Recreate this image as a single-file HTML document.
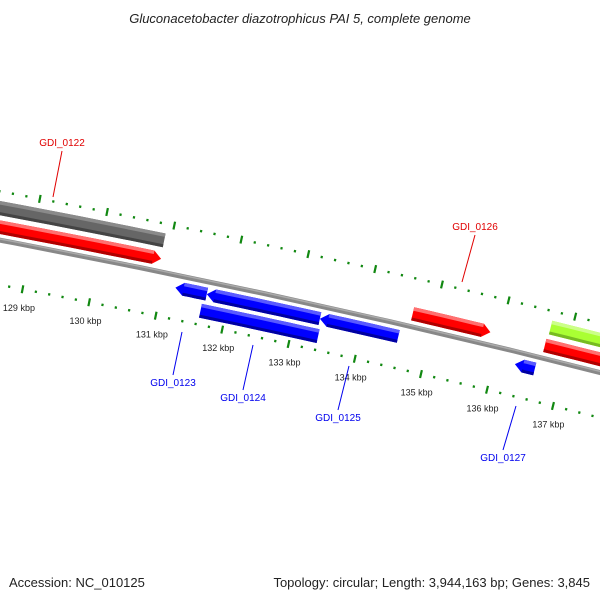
<!DOCTYPE html>
<html><head><meta charset="utf-8"><style>
html,body{margin:0;padding:0;background:#fff;}
svg{display:block;font-family:"Liberation Sans",sans-serif;}
</style></head><body>
<svg id="map" width="600" height="600" viewBox="0 0 600 600">
<rect width="600" height="600" fill="#fff"/>
<text x="300" y="23" text-anchor="middle" font-size="13" font-style="italic" fill="#222">Gluconacetobacter diazotrophicus PAI 5, complete genome</text>
<g id="ticks"></g>
<g id="backbone"></g>
<g id="genes"></g>
<g id="labels"></g>
<text x="9" y="587" font-size="13" fill="#222">Accession: NC_010125</text>
<text x="590" y="587" font-size="13" fill="#222" text-anchor="end">Topology: circular; Length: 3,944,163 bp; Genes: 3,845</text>
</svg>
<script>
// data
const kbpLabels = [129,130,131,132,133,134,135,136,137];
const geneStart = [127.5, 127.5, 131.20, 131.67, 131.63, 133.37, 134.68, 136.31, 136.69, 136.67];
const geneEnd   = [130.90, 130.91, 131.67, 133.37, 133.40, 134.55, 135.85, 136.61, 138.8, 138.8];
const geneStrand= [0, 1, -1, -1, 0, -1, 1, -1, 0, 1];
const geneLane  = [2, 1, -1, -1, -2, -1, 1, -1, 2, 1];
const geneKind  = ['grey','red','blue','blue','blue','blue','red','blue','green','red'];
const geneNames = ['GDI_0122','GDI_0123','GDI_0124','GDI_0125','GDI_0126','GDI_0127'];
const labelGene = [1, 2, 4, 5, 6, 7];

const NS='http://www.w3.org/2000/svg';
const R=10000, PX=68.2, K0=133, P0=[298,301];
const a0=Math.atan2(-0.977,0.215);
const C=[P0[0]-R*Math.cos(a0), P0[1]-R*Math.sin(a0)];
function pt(k,h){const a=a0+PX*(k-K0)/R, r=R+h;return [C[0]+r*Math.cos(a), C[1]+r*Math.sin(a)];}
function mk(tag,attrs,parent){const e=document.createElementNS(NS,tag);for(const k in attrs)e.setAttribute(k,attrs[k]);parent.appendChild(e);return e;}
function edge(k1,k2,h){const o=[];for(let i=0;i<=8;i++){o.push(pt(k1+(k2-k1)*i/8,h));}return o;}
function poly(arr){return arr.map(p=>p[0].toFixed(1)+','+p[1].toFixed(1)).join(' ');}

// ticks
const tg=document.getElementById('ticks');
const rows=[48,-44];
for(const hr of rows){
  for(let i=0;i<=65;i++){
    const k=126.2+i*0.2;const major=Math.abs(k-Math.round(k))<0.01;
    const half=major?4:1.2;
    const p1=pt(k,hr-half),p2=pt(k,hr+half);
    const l=mk('line',{x1:p1[0],y1:p1[1],x2:p2[0],y2:p2[1],stroke:'#118811','stroke-width':2.2},tg);
    
    
  }
}
kbpLabels.forEach(k=>{
  const p=pt(k,-63);
  const t=mk('text',{x:p[0],y:p[1]+3,'font-size':9,'text-anchor':'middle',fill:'#222'},tg);
  t.textContent=k+' kbp';
  
  
});

// backbone
const bg=document.getElementById('backbone');
const bb=mk('polyline',{points:poly(edge(125,140,0)),fill:'none',stroke:'#888','stroke-width':5},bg);


const bb2=mk('polyline',{points:poly(edge(125,140,1.2)),fill:'none',stroke:'#aaa','stroke-width':1.5},bg);



// genes
const colors={red:['#ff0000','#ff7070','#b00000'],blue:['#0000ff','#5a5aff','#0000a0'],grey:['#666666','#8a8a8a','#444444'],green:['#aaff33','#ccff88','#77bb22']};
const laneH={1:[6,19.5],2:[24.5,38.5],'-1':[-19,-6],'-2':[-37,-23]};
const gg=document.getElementById('genes');
for(let i=0;i<geneStart.length;i++){
  const k1=geneStart[i],k2=geneEnd[i],s=geneStrand[i];
  const [hl,hh]=laneH[geneLane[i]];const hm=(hl+hh)/2;const col=colors[geneKind[i]];
  const tip=0.12;
  let b1=k1,b2=k2;if(s===1)b2=k2-tip;if(s===-1)b1=k1+tip;
  let pts=edge(b1,b2,hh);
  if(s===1)pts.push(pt(k2,hm));
  pts=pts.concat(edge(b1,b2,hl).reverse());
  if(s===-1)pts.push(pt(k1,hm));
  const g=mk('g',{},gg);
  
  
  mk('polygon',{points:poly(pts),fill:col[0]},g);
  mk('polygon',{points:poly(edge(b1,b2,hh).concat(edge(b1,b2,hh-3.5).reverse())),fill:col[1]},g);
  mk('polygon',{points:poly(edge(b1,b2,hl+3).concat(edge(b1,b2,hl).reverse())),fill:col[2]},g);
}

// labels
const lg=document.getElementById('labels');
const labelPos=[[62,146,53,197,'#e00000'],[173,386,182,332,'#0000ee'],[243,401,253,345,'#0000ee'],[338,421,349,366,'#0000ee'],[475,230,462,282,'#e00000'],[503,461,516,406,'#0000ee']];
labelPos.forEach((L,j)=>{
  const up=L[1]<L[3];
  const ln=mk('line',{x1:L[0]+(up?0:0),y1:up?L[1]+5:L[1]-11,x2:L[2],y2:L[3],stroke:L[4],'stroke-width':1},lg);
  
  
  const t=mk('text',{x:L[0],y:L[1],'font-size':10,'text-anchor':'middle',fill:L[4]},lg);
  t.textContent=geneNames[j];
  
  
});
</script>
</body></html>
